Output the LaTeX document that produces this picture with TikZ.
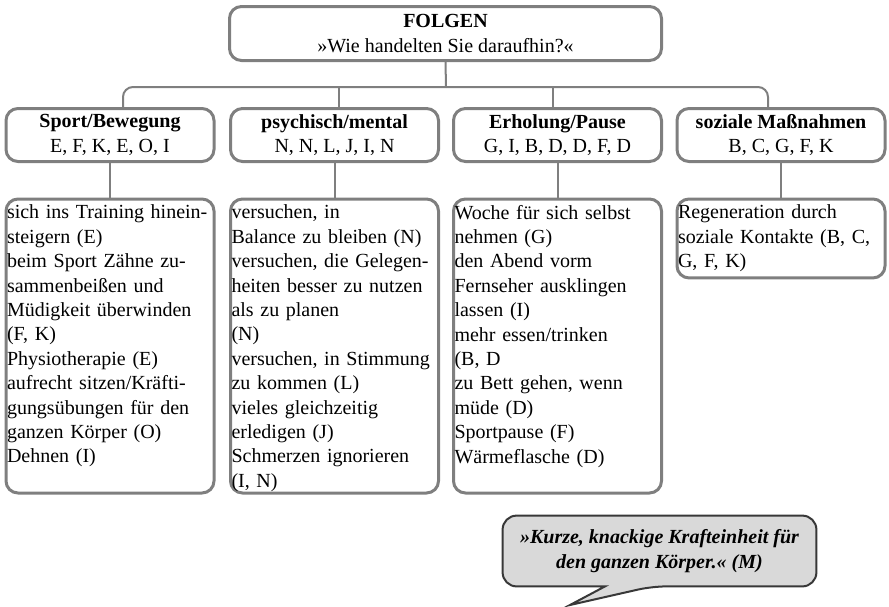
\documentclass[tikz,border=0pt]{standalone}
\usepackage{fontspec}
\setmainfont{Liberation Serif}
\usepackage{xcolor}
\usepackage{tikz}
\usetikzlibrary{backgrounds}

\definecolor{boxgray}{HTML}{7F7F7F}
\definecolor{quotefill}{HTML}{D9D9D9}
\definecolor{quoteline}{HTML}{383838}

\newcommand{\itemlist}[1]{\parbox[t][141pt][t]{103pt}{\raggedright #1}}

\begin{document}
\begin{tikzpicture}[x=0.5pt, y=-0.5pt, font=\fontsize{10}{12.2}\selectfont,
    head/.style={draw=boxgray, line width=1.5pt, rounded corners=6pt, align=center, inner sep=1pt, minimum height=26.5pt},
    list/.style={draw=boxgray, line width=1.5pt, rounded corners=6pt, align=left, anchor=north, text width=103pt, inner xsep=0.5pt, inner ysep=3pt},
    link/.style={draw=boxgray, line width=1pt},
    quote/.style={align=center, inner sep=0pt, minimum width=156.5pt, minimum height=35pt, font=\fontsize{10}{12.4}\selectfont\bfseries\itshape}]
      \useasboundingbox (0,0) rectangle (889,606);

      \node[head, minimum width=216pt, minimum height=27pt]  (FO)  at (445.5, 33.5)  {\textbf{FOLGEN}\\ »Wie handelten Sie daraufhin?«};

      \node[head, minimum width=104pt]  (SB)  at (110,   135)  {\textbf{Sport/Bewegung}\\ E, F, K, E, O, I};
      \node[head, minimum width=104pt]  (PM)  at (334.5, 135)  {\textbf{psychisch/mental}\\ N, N, L, J, I, N};
      \node[head, minimum width=104pt]  (EP)  at (557.5, 135)  {\textbf{Erholung/Pause}\\ G, I, B, D, D, F, D};
      \node[head, minimum width=104pt]  (SM)  at (781,   135)  {\textbf{soziale Maßnahmen}\\ B, C, G, F, K};

      \node[list]  (SBL)  at (110,   197.5)  {\itemlist{sich ins Training hinein-\\ steigern (E)\\ beim Sport Zähne zu-\\ sammenbeißen und\\ Müdigkeit überwinden\\ (F, K)\\ Physiotherapie (E)\\ aufrecht sitzen/Kräfti-\\ gungsübungen für den\\ ganzen Körper (O)\\ Dehnen (I)}};
      \node[list]  (PML)  at (334.5, 197.5)  {\itemlist{versuchen, in\\ Balance zu bleiben (N)\\ versuchen, die Gelegen-\\ heiten besser zu nutzen\\ als zu planen\\ (N)\\ versuchen, in Stimmung\\ zu kommen (L)\\ vieles gleichzeitig\\ erledigen (J)\\ Schmerzen ignorieren\\ (I, N)}};
      \node[list]  (EPL)  at (557.5, 197.5)  {\itemlist{Woche für sich selbst\\ nehmen (G)\\ den Abend vorm\\ Fernseher ausklingen\\ lassen (I)\\ mehr essen/trinken\\ (B, D\\ zu Bett gehen, wenn\\ müde (D)\\ Sportpause (F)\\ Wärmeflasche (D)}};
      \node[list]  (SML)  at (781,   197.5)  {Regeneration durch\\ soziale Kontakte (B, C,\\ G, F, K)};

      \node[quote]  (Q)  at (659.5, 551)  {»Kurze, knackige Krafteinheit für\\ den ganzen Körper.« (M)};
      \coordinate (tip) at (570, 605);
      \coordinate (bus) at (446, 87);

      \draw[link] (FO.south) -- (bus);
      \draw[link, rounded corners=5pt] ([xshift=6.5pt]SB.north) |- (bus);
      \draw[link] ([xshift=2.25pt]PM.north) -- ([xshift=2.25pt]PM.north |- bus);
      \draw[link] ([xshift=-2.25pt]EP.north) -- ([xshift=-2.25pt]EP.north |- bus);
      \draw[link, rounded corners=5pt] ([xshift=-6.5pt]SM.north) |- (bus);

      \draw[link] (SB.south) -- (SBL.north);
      \draw[link] (PM.south) -- (PML.north);
      \draw[link] (EP.south) -- (EPL.north);
      \draw[link] (SM.south) -- (SML.north);

      \begin{scope}[on background layer]
        \draw[draw=quoteline, fill=quotefill, line width=1pt, rounded corners=7pt]
          (Q.north) -- (Q.north east) -- (Q.south east) -- ([xshift=-3.75pt]Q.south)
          [sharp corners] -- (tip) -- ([xshift=-27.25pt]Q.south)
          [rounded corners=7pt] -- (Q.south west) -- (Q.north west) -- cycle;
      \end{scope}
    \end{tikzpicture}
\end{document}
